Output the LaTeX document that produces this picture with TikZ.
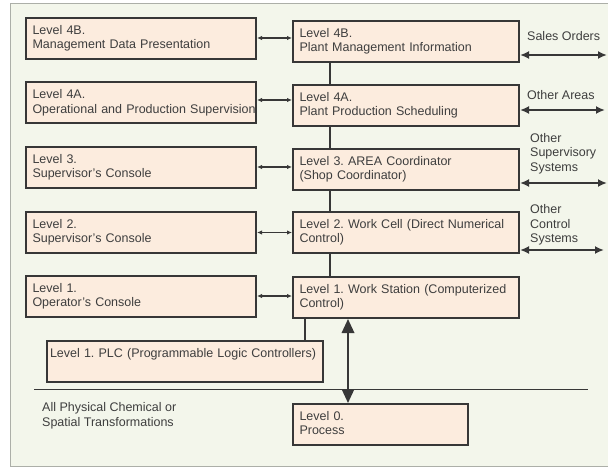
\documentclass[tikz,border=0pt]{standalone}
\usepackage{fontspec}
\setmainfont{Liberation Sans}
\usetikzlibrary{arrows.meta}

\definecolor{panel}{RGB}{243,246,235}
\definecolor{panelline}{RGB}{172,175,168}
\definecolor{boxfill}{RGB}{252,236,222}
\definecolor{boxline}{RGB}{55,55,55}
\definecolor{ink}{RGB}{62,62,62}

\frenchspacing
\newcommand{\lineset}{\hyphenpenalty=10000 \exhyphenpenalty=10000 \frenchspacing\strut}

\begin{document}
\begin{tikzpicture}[x=1pt,y=-1pt,
  txt/.style={font=\fontsize{12.5}{14.5}\selectfont, text=ink},
  box/.style={txt, draw=boxline, fill=boxfill, line width=2pt, anchor=north west,
    align=left, inner xsep=6.5pt, inner ysep=0pt, minimum height=41pt,
    execute at begin node=\lineset, execute at end node=\strut},
  leftbox/.style={box, text width=217pt},
  rightbox/.style={box, text width=213pt},
  side/.style={txt, anchor=north west, align=left, inner sep=0pt,
    execute at begin node=\lineset},
  link/.style={draw=boxline, line width=1.8pt},
  small/.style={draw=boxline, line width=1.3pt,
    {Latex[length=5pt,width=4.5pt]}-{Latex[length=5pt,width=4.5pt]}},
  outward/.style={draw=boxline, line width=1.8pt,
    {Latex[length=9pt,width=8pt]}-{Latex[length=9pt,width=8pt]}},
  big/.style={draw=boxline, line width=1.8pt,
    {Triangle[length=14pt,width=12.5pt]}-{Triangle[length=14pt,width=12.5pt]}}
]
\useasboundingbox (0,0) rectangle (608,468);
\begin{scope}
  \clip (0,0) rectangle (608,468);
  \draw[panelline, fill=panel, line width=1pt] (10,3.5) rectangle (620,466);
\end{scope}

% console column
\node[leftbox] (l4b) at (25,17)    {Level 4B.\\Management Data Presentation};
\node[leftbox] (l4a) at (25,81.5)  {Level 4A.\\\mbox{Operational and Production Supervision}};
\node[leftbox] (l3)  at (25,146)   {Level 3.\\Supervisor's Console};
\node[leftbox] (l2)  at (25,211)   {Level 2.\\Supervisor's Console};
\node[leftbox] (l1)  at (25,275)   {Level 1.\\Operator's Console};

% control hierarchy column
\node[rightbox] (r4b) at (292,20)  {Level 4B.\\Plant Management Information};
\node[rightbox] (r4a) at (292,84)  {Level 4A.\\Plant Production Scheduling};
\node[rightbox] (r3)  at (292,148) {Level 3. AREA Coordinator\\(Shop Coordinator)};
\node[rightbox] (r2)  at (292,211) {\mbox{Level 2. Work Cell (Direct Numerical}\\Control)};
\node[rightbox] (r1)  at (292,276) {\mbox{Level 1. Work Station (Computerized}\\Control)};

\node[box, text width=270pt, inner xsep=3pt, minimum height=41pt] (plc) at (46,340)
  {\mbox{Level 1. PLC (Programmable Logic Controllers)}\\\mbox{}};
\node[box, text width=162pt] (l0) at (292,403) {Level 0.\\Process};

% side labels
\node[side] (so) at (527,30)  {Sales Orders};
\node[side] (oa) at (527,89)  {Other Areas};
\node[side] (os) at (530,133) {Other\\Supervisory\\Systems};
\node[side] (oc) at (530,204.5) {Other\\Control\\Systems};
\node[side] (phys) at (42,402.5) {All Physical Chemical or\\Spatial Transformations};

% separator between control levels and the physical process
\coordinate (sepL) at (34,389.3);
\coordinate (sepR) at (588,389.3);
\draw[boxline, line width=1.5pt] (sepL) -- (sepR);

% vertical spine
\coordinate (spine) at (330,0);
\draw[link] (r4b.south -| spine) -- (r4a.north -| spine);
\draw[link] (r4a.south -| spine) -- (r3.north -| spine);
\draw[link] (r3.south -| spine)  -- (r2.north -| spine);
\draw[link] (r2.south -| spine)  -- (r1.north -| spine);
\coordinate (plcdrop) at (305,0);
\draw[link] (r1.south -| plcdrop) -- (plc.north -| plcdrop);
\coordinate (procline) at (348,0);
\draw[big] (r1.south -| procline) -- (l0.north -| procline);

% console links
\draw[small] ([yshift=0.5pt]l4b.east) -- ([yshift=0.5pt]l4b.east -| r4b.west);
\draw[small] ([yshift=3pt]l4a.east)   -- ([yshift=3pt]l4a.east -| r4a.west);
\draw[small] ([yshift=0.5pt]l3.east)  -- ([yshift=0.5pt]l3.east -| r3.west);
\draw[small] (l2.east) -- (l2.east -| r2.west);
\draw[small] ([yshift=0.5pt]l1.east)  -- ([yshift=0.5pt]l1.east -| r1.west);

% outward links
\coordinate (eso) at (607,55);
\coordinate (eoa) at (605,110);
\coordinate (eos) at (607,183);
\coordinate (eoc) at (604,250);
\draw[outward] (eso -| r4b.east) -- (eso);
\draw[outward] (eoa -| r4a.east) -- (eoa);
\draw[outward] (eos -| r3.east)  -- (eos);
\draw[outward] (eoc -| r2.east)  -- (eoc);
\end{tikzpicture}
\end{document}
